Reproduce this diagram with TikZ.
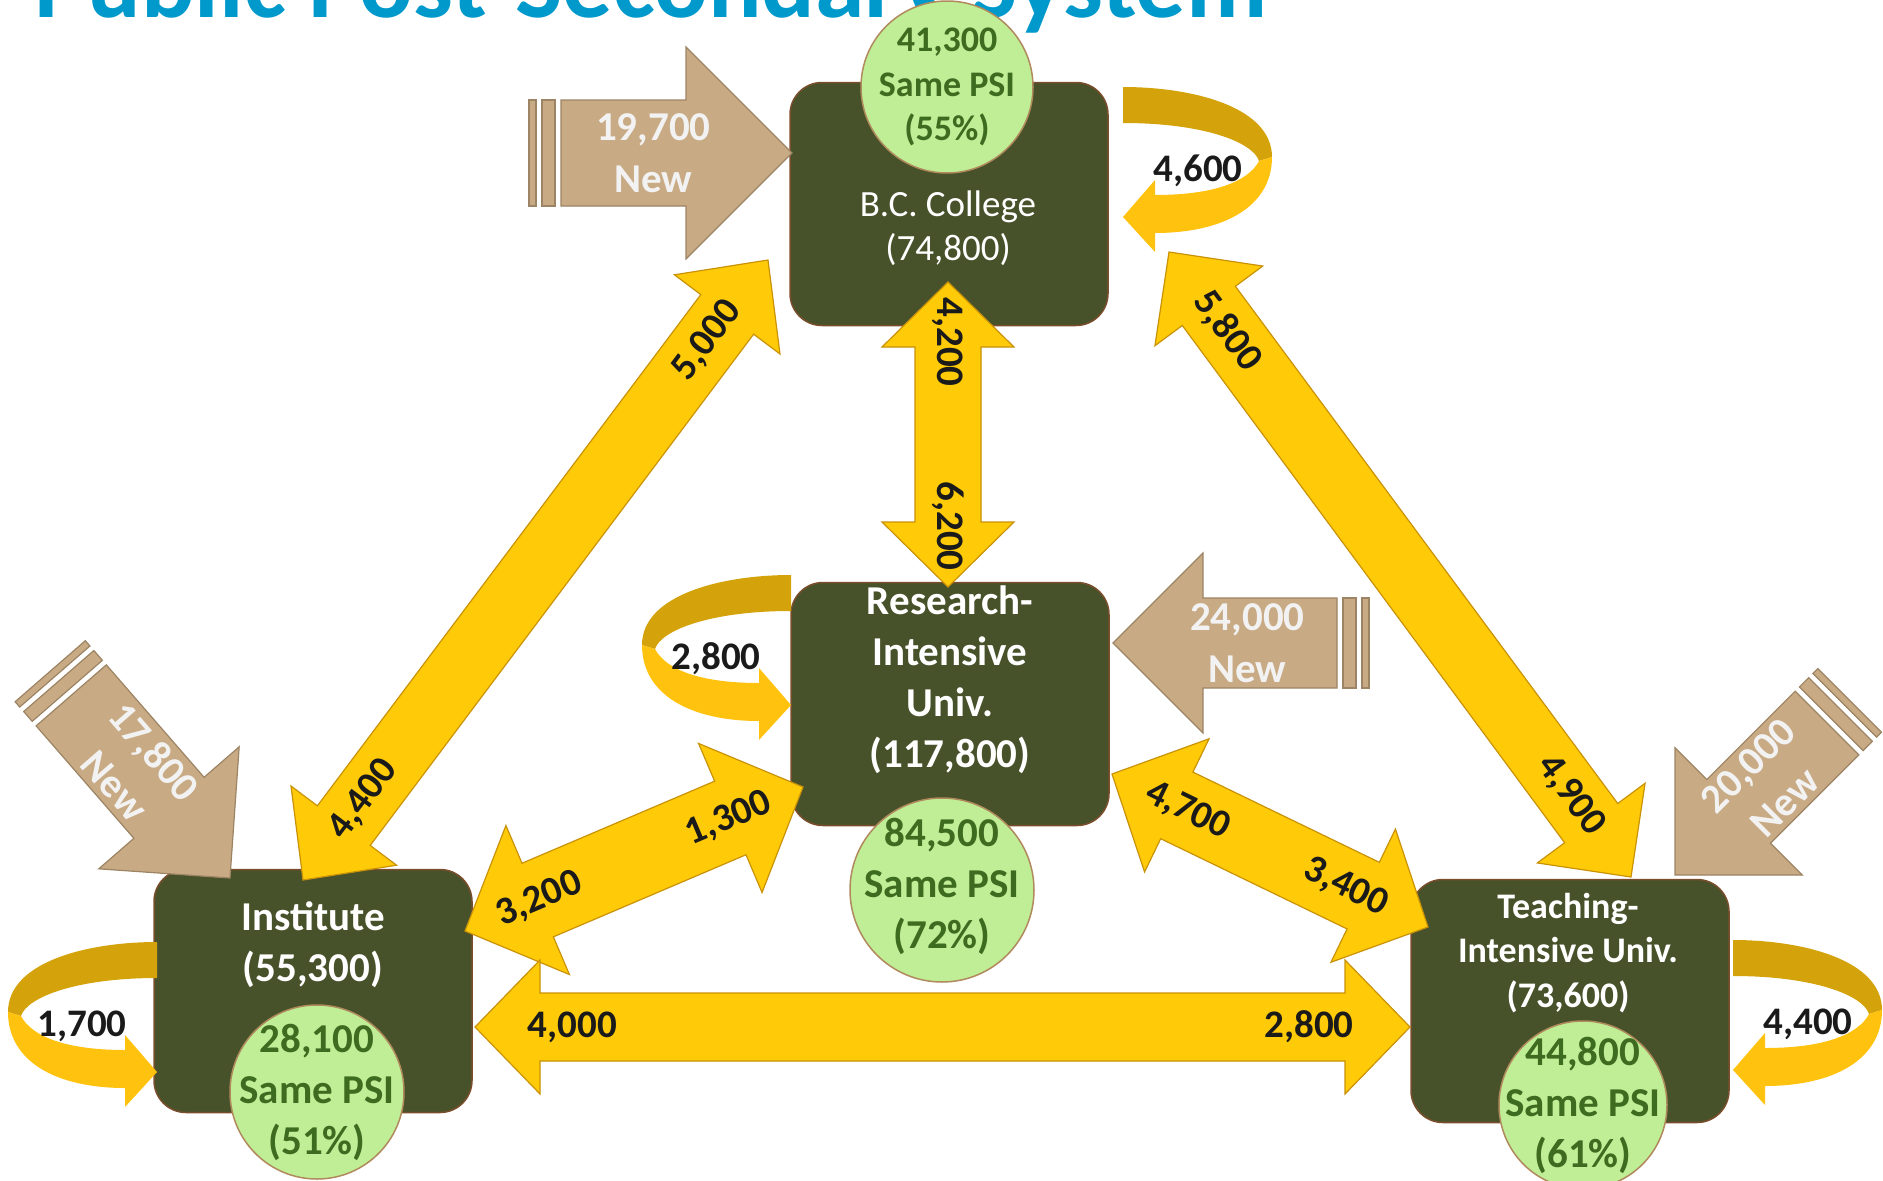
\documentclass[tikz,border=0pt]{standalone}
\usepackage{fontspec}
\setmainfont{Carlito}
\usetikzlibrary{positioning,calc}
\definecolor{titleblue}{HTML}{0099CC}
\definecolor{boxgreen}{HTML}{48522A}
\definecolor{boxedge}{HTML}{7A4E2C}
\definecolor{psifill}{HTML}{C0EE96}
\definecolor{psiedge}{HTML}{B08A5C}
\definecolor{psitext}{HTML}{3D6B1F}
\definecolor{flowyellow}{HTML}{FFCA08}
\definecolor{flowedge}{HTML}{C99207}
\definecolor{loopdark}{HTML}{D4A30B}
\definecolor{loopbright}{HTML}{FFC20E}
\definecolor{tanfill}{HTML}{C8AA84}
\definecolor{tanedge}{HTML}{9C8464}
\definecolor{tantext}{HTML}{F2F2F2}
\definecolor{numblack}{HTML}{1A1A1A}
\tikzset{
  box/.style={draw=boxedge,line width=1.5pt,fill=boxgreen,rounded corners=32pt,
    minimum width=318pt,minimum height=243pt},
  boxtext/.style={text=white,align=center,inner sep=0pt,font=\bfseries\fontsize{41}{51}\selectfont},
  psi/.style={circle,draw=psiedge,line width=1.5pt,fill=psifill,inner sep=0pt},
  psilabel/.style={text=psitext,align=center,inner sep=0pt,font=\bfseries\fontsize{41}{51}\selectfont},
  flow/.style={fill=flowyellow,draw=flowedge,line width=1.2pt,line join=miter},
  flownum/.style={text=numblack,inner sep=0pt,font=\bfseries\fontsize{39}{40}\selectfont},
  newfill/.style={fill=tanfill,draw=tanedge,line width=1.2pt},
  newlabel/.style={text=tantext,align=center,inner sep=0pt,font=\bfseries\fontsize{41}{52}\selectfont},
}
\newcommand*{\flowarrow}[5]{%
  \coordinate (h1) at ($(#1)!#3!(#2)$);
  \coordinate (h2) at ($(#2)!#3!(#1)$);
  \filldraw[flow] (#1) -- ($(h1)!#4!90:(#2)$) -- ($(h1)!#5!90:(#2)$)
    -- ($(h2)!#5!-90:(#1)$) -- ($(h2)!#4!-90:(#1)$) -- (#2)
    -- ($(h2)!#4!90:(#1)$) -- ($(h2)!#5!90:(#1)$)
    -- ($(h1)!#5!-90:(#2)$) -- ($(h1)!#4!-90:(#2)$) -- cycle;}
\newcommand*{\selfloop}[4]{%
  \begin{scope}[shift={(#2)},xscale=#3]
  \fill[loopdark] (0,0) .. controls (70,0) and (149,20) .. (149,70) -- (136,74)
    .. controls (130,55) and (80,36) .. (0,36) -- cycle;
  \fill[loopbright] (149,70) .. controls (149,120) and (100,146) .. (32,146) -- (32,165)
    -- (0,130) -- (32,93) -- (32,108) .. controls (90,108) and (125,95) .. (136,74) -- cycle;
  \node[flownum] (#1) at (75,84) {#4};
  \end{scope}}
\newcommand*{\newstudents}[7]{%
  \begin{scope}[shift={(#2)},rotate=#3]
  \filldraw[newfill] (0,0) -- (-#4,-#4) -- (-#4,-#4/2) -- (-#5,-#4/2) -- (-#5,#4/2)
    -- (-#4,#4/2) -- (-#4,#4) -- cycle;
  \filldraw[newfill] (-#5-6,-#4/2) rectangle (-#5-19,#4/2);
  \filldraw[newfill] (-#5-25,-#4/2) rectangle (-#5-32,#4/2);
  \node[newlabel,rotate=#6] (#1) at (-0.6*#5,0) {#7};
  \end{scope}}

\begin{document}
\begin{tikzpicture}[x=1pt,y=-1pt]
\useasboundingbox (0,0) rectangle (1883,1181);
\node[anchor=base west,inner sep=0pt,text=titleblue,font=\bfseries\fontsize{100}{110}\selectfont]
  (title) at (34,17) {Public Post-Secondary System};
\node[box] (bc) at (949,204) {};
\node[box] (ri) at (950,704) {};
\node[box] (inst) at (313,991) {};
\node[box] (tiu) at (1570,1001) {};
\newstudents{new-bc}{792,153}{0}{106}{231}{0}{19,700\\New}
\newstudents{new-ri}{1113,643}{180}{90}{224}{0}{24,000\\New}
\newstudents{new-inst}{230,878}{-49}{93}{242}{-49}{17,800\\New}
\newstudents{new-tiu}{1675,875}{225}{90}{215}{45}{20,000\\New}
\coordinate (bc-s) at (948,282);
\coordinate (ri-n) at (948,587);
\coordinate (bc-sw) at (768,260);
\coordinate (inst-n) at (303,880);
\coordinate (bc-se) at (1169,252);
\coordinate (tiu-n) at (1631,877);
\coordinate (inst-e) at (465,931);
\coordinate (ri-w) at (803,787);
\coordinate (ri-e) at (1112,774);
\coordinate (tiu-w) at (1428,927);
\coordinate (inst-se) at (475,1027);
\coordinate (tiu-sw) at (1410,1027);
\flowarrow{bc-s}{ri-n}{65pt}{66pt}{33pt}
\flowarrow{bc-sw}{inst-n}{68pt}{66pt}{33pt}
\flowarrow{bc-se}{tiu-n}{67pt}{67pt}{33pt}
\flowarrow{inst-e}{ri-w}{79pt}{81pt}{40pt}
\flowarrow{ri-e}{tiu-w}{72pt}{74pt}{37pt}
\flowarrow{inst-se}{tiu-sw}{65pt}{67pt}{34pt}
\node[flownum,rotate=-90] (bc-ri) at ($(bc-s)!0.197!(ri-n)$) {4,200};
\node[flownum,rotate=-90] (ri-bc) at ($(bc-s)!0.8!(ri-n)$) {6,200};
\node[flownum,rotate=53] (inst-bc) at ($(bc-sw)!0.13!(inst-n)$) {5,000};
\node[flownum,rotate=53] (bc-inst) at ($(bc-sw)!0.87!(inst-n)$) {4,400};
\node[flownum,rotate=-53.5] (tiu-bc) at ($(bc-se)!0.126!(tiu-n)$) {5,800};
\node[flownum,rotate=-53.5] (bc-tiu) at ($(bc-se)!0.87!(tiu-n)$) {4,900};
\node[flownum,rotate=23] (ri-inst) at ($(inst-e)!0.22!(ri-w)$) {3,200};
\node[flownum,rotate=23] (inst-ri) at ($(inst-e)!0.78!(ri-w)$) {1,300};
\node[flownum,rotate=-26] (tiu-ri) at ($(ri-e)!0.24!(tiu-w)$) {4,700};
\node[flownum,rotate=-26] (ri-tiu) at ($(ri-e)!0.74!(tiu-w)$) {3,400};
\node[flownum] (tiu-inst) at ($(inst-se)!0.104!(tiu-sw)$) {4,000};
\node[flownum] (inst-tiu) at ($(inst-se)!0.892!(tiu-sw)$) {2,800};
\selfloop{bc-bc}{1123,87}{1}{4,600}
\selfloop{ri-ri}{791,575}{-1}{2,800}
\selfloop{inst-inst}{157,942}{-1}{1,700}
\selfloop{tiu-tiu}{1733,940}{1}{4,400}
\node[psi,minimum size=172pt] (bc-psi) at (947,87) {};
\node[psi,minimum size=184pt] (ri-psi) at (942,890) {};
\node[psi,minimum size=174pt] (inst-psi) at (317,1092) {};
\node[psi,minimum size=168pt] (tiu-psi) at (1583,1105) {};
\node[psilabel,font=\bfseries\fontsize{36}{44.5}\selectfont] (bc-same) at (bc-psi) {41,300\\Same PSI\\(55\%)};
\node[psilabel] (ri-same) at ([yshift=4pt]ri-psi.center) {84,500\\Same PSI\\(72\%)};
\node[psilabel] (inst-same) at (inst-psi) {28,100\\Same PSI\\(51\%)};
\node[psilabel] (tiu-same) at (tiu-psi) {44,800\\Same PSI\\(61\%)};
\node[boxtext,font=\fontsize{37}{44}\selectfont] (bc-name) at (948,228) {B.C. College\\(74,800)};
\node[boxtext] (ri-name) at (950,680) {Research-\\Intensive\\Univ.\\(117,800)};
\node[boxtext] (inst-name) at (313,945) {Institute\\(55,300)};
\node[boxtext,font=\bfseries\fontsize{36}{44.5}\selectfont] (tiu-name) at (1568,953) {Teaching-\\Intensive Univ.\\(73,600)};
\end{tikzpicture}
\end{document}
